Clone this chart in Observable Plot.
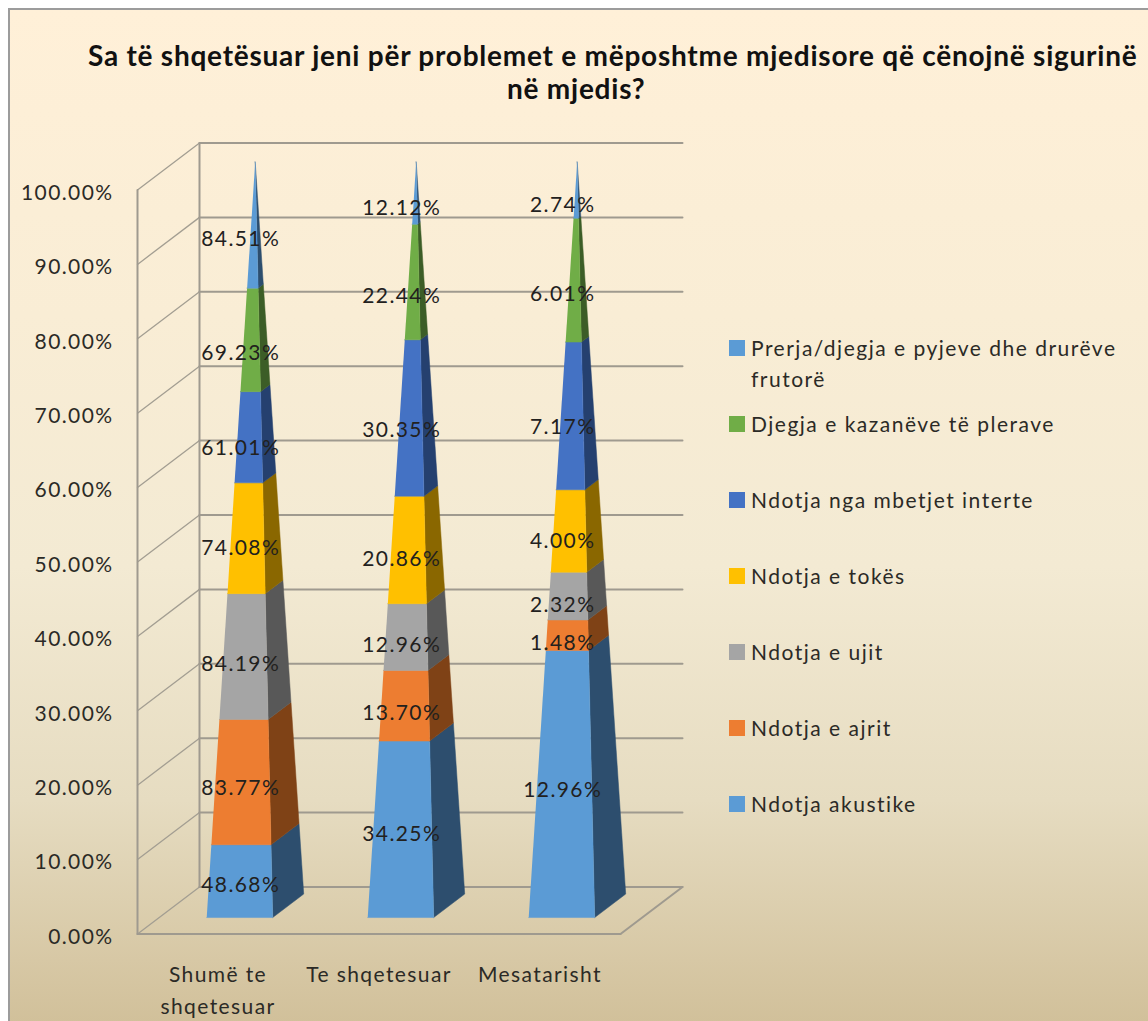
<!DOCTYPE html>
<html>
<head>
<meta charset="utf-8">
<script src="https://cdn.jsdelivr.net/npm/d3@7"></script>
<script src="https://cdn.jsdelivr.net/npm/@observablehq/plot@0.6"></script>
<style>
html,body{margin:0;padding:0;background:#fff;overflow:hidden}
#page{position:relative;width:1148px;height:1021px;overflow:hidden;font-family:Lato,sans-serif;color:#2b2a26}
#panel{position:absolute;left:8px;top:8px;right:-4px;bottom:-4px;border:2px solid #9c9c9c;box-sizing:border-box;
 background:linear-gradient(to bottom,#fff0d8 0%,#f9edd5 30%,#f3ead3 55%,#e6dcc1 78%,#d1c09a 100%)}
.t{position:absolute;font:700 28px Lato,sans-serif;color:#111;white-space:nowrap;line-height:34px;letter-spacing:0.76px}
#chart{position:absolute;left:0;top:120px}
#legend{position:absolute;left:729px;top:332px;width:410px}
.row{height:76px;display:flex;align-items:flex-start;font-size:21px;line-height:31px;letter-spacing:1.5px}
.sw{flex:none;width:16px;height:16px;margin-top:8px;margin-right:6px}
</style>
</head>
<body>
<div id="page">
<div id="panel"></div>
<div class="t" id="t1" style="left:88px;top:38px">Sa të shqetësuar jeni për problemet e mëposhtme mjedisore që cënojnë sigurinë</div>
<div class="t" id="t2" style="left:507px;top:71px">në mjedis?</div>
<div id="chart"></div>
<div id="legend"></div>
</div>
<script>
const categories = ["Shumë te\nshqetesuar", "Te shqetesuar", "Mesatarisht"];
const seriesNames = ["Ndotja akustike", "Ndotja e ajrit", "Ndotja e ujit", "Ndotja e tokës", "Ndotja nga mbetjet interte", "Djegja e kazanëve të plerave", "Prerja/djegja e pyjeve dhe drurëve frutorë"];
const shumeValues = [48.68, 83.77, 84.19, 74.08, 61.01, 69.23, 84.51];
const teValues = [34.25, 13.70, 12.96, 20.86, 30.35, 22.44, 12.12];
const mesValues = [12.96, 1.48, 2.32, 4.00, 7.17, 6.01, 2.74];
const frontColors = ["#5b9bd5", "#ed7d31", "#a5a5a5", "#ffc000", "#4472c4", "#70ad47", "#5b9bd5"];
const sideColors = ["#2d4e6e", "#7f4216", "#585858", "#8a6700", "#25406f", "#3c5d27", "#2d4e6e"];
const yTicks = [0, 10, 20, 30, 40, 50, 60, 70, 80, 90, 100];

const columns = [shumeValues, teValues, mesValues];
// oblique projection: how far one unit of chart depth moves a point
const depthX = 62 / 161, depthY = 6.32;
const halfWidth = 0.205, depthCentre = 0.6, halfDepth = 0.25;
const project = (x, y, d) => ({x: x + d * depthX, y: y + d * depthY});

function pyramidPoint(i, t, u, v) {
  const s = 1 - t;
  return project(i + 0.5 + u * halfWidth * s, t * 100, depthCentre + v * halfDepth * s);
}

const faces = [], labels = [];
columns.forEach((vals, i) => {
  const total = d3.sum(vals);
  let acc = 0;
  vals.forEach((v, k) => {
    const t0 = acc / total, t1 = (acc + v) / total;
    acc += v;
    const side = [[t0, 1, -1], [t0, 1, 1], [t1, 1, 1], [t1, 1, -1]];
    const front = [[t0, -1, -1], [t0, 1, -1], [t1, 1, -1], [t1, -1, -1]];
    side.forEach(([t, a, b]) => faces.push({...pyramidPoint(i, t, a, b), id: `s${i}-${k}`, fill: sideColors[k]}));
    front.forEach(([t, a, b]) => faces.push({...pyramidPoint(i, t, a, b), id: `f${i}-${k}`, fill: frontColors[k]}));
    labels.push({...project(i + 0.5, (t0 + t1) * 50, depthCentre - halfDepth), text: v.toFixed(2) + "%"});
  });
});

const wall = (id, a, b) => [{...a, id}, {...b, id}];
const gridBack = yTicks.flatMap(p => wall("b" + p, project(0, p, 1), project(3, p, 1)));
const gridSide = yTicks.flatMap(p => wall("s" + p, project(0, p, 0), project(0, p, 1)));
const frame = [
  ...wall("fl", project(0, 0, 0), project(0, 100, 0)),
  ...wall("bl", project(0, 0, 1), project(0, 100, 1)),
  ...wall("ff", project(0, 0, 0), project(3, 0, 0)),
  ...wall("fr", project(3, 0, 0), project(3, 0, 1))
];

const chart = Plot.plot({
  width: 1148,
  height: 901,
  marginTop: 69.5,
  marginBottom: 87.5,
  marginLeft: 137,
  marginRight: 528,
  x: {domain: [0, 3], axis: null},
  y: {domain: [0, 100], axis: null},
  color: {type: "identity"},
  style: {background: "transparent", fontFamily: "Lato, sans-serif", fontSize: "21px", letterSpacing: "1.4px", color: "#2b2a26", overflow: "visible"},
  marks: [
    Plot.line(gridSide, {x: "x", y: "y", z: "id", stroke: "#a39e92", strokeWidth: 1.3, curve: "linear"}),
    Plot.line(gridBack, {x: "x", y: "y", z: "id", stroke: "#9f9a8f", strokeWidth: 2, curve: "linear"}),
    Plot.line(frame, {x: "x", y: "y", z: "id", stroke: "#9f9a8f", strokeWidth: 2, curve: "linear"}),
    Plot.line(faces, {x: "x", y: "y", z: "id", fill: "fill", stroke: "fill", strokeWidth: 0.5, curve: "linear"}),
    Plot.axisY(yTicks, {anchor: "left", label: null, tickSize: 0, tickPadding: 24, dy: 3, tickFormat: d => d.toFixed(2) + "%", fontVariant: "normal", fontSize: 21}),
    Plot.axisX([0.5, 1.5, 2.5], {anchor: "bottom", label: null, tickSize: 0, tickPadding: 25, lineHeight: 1.52, tickFormat: d => categories[Math.floor(d)], fontSize: 21}),
    Plot.text(labels, {x: "x", y: "y", text: "text", dx: 1, dy: 4, fontSize: 21, fill: "#22211e"})
  ]
});
document.getElementById("chart").append(chart);

const legend = d3.select("#legend");
d3.range(seriesNames.length - 1, -1, -1).forEach(k => {
  const row = legend.append("div").attr("class", "row");
  row.append("div").attr("class", "sw").style("background", frontColors[k]);
  row.append("div").style("width", "385px").text(seriesNames[k]);
});
</script>
</body>
</html>
